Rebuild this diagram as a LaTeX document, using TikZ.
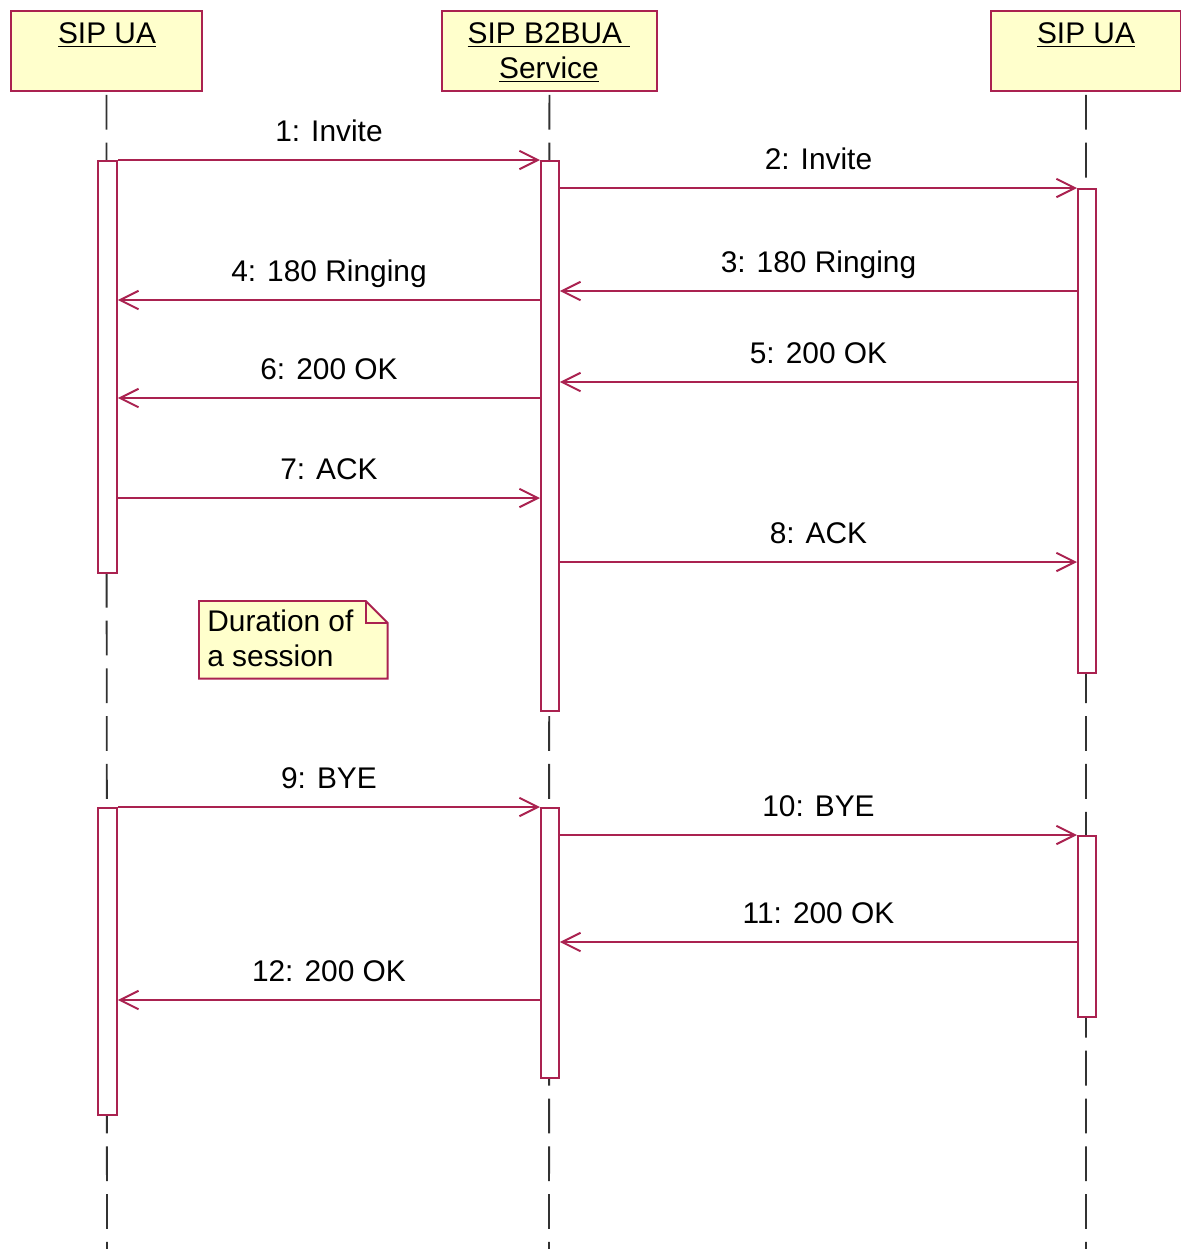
\documentclass[tikz,border=0pt]{standalone}
\usepackage{fontspec}
\setmainfont{Liberation Sans}
\usetikzlibrary{arrows.meta,calc}
\definecolor{umlred}{RGB}{170,34,80}
\definecolor{umlfill}{RGB}{255,255,204}
\definecolor{lifegray}{RGB}{50,50,50}
\tikzset{
  every node/.style={font=\fontsize{17}{21}\selectfont},
  header/.style={draw=umlred, fill=umlfill, line width=1.1pt, anchor=north west, inner sep=0pt},
  htext/.style={anchor=north, align=center, inner sep=0pt},
  lifeline/.style={draw=lifegray, line width=1.1pt, dash pattern=on 19.8pt off 7.4pt},
  actbar/.style={draw=umlred, fill=white, line width=1.1pt, anchor=north west, inner sep=0pt},
  msg/.style={draw=umlred, line width=1.1pt, -{Straight Barb[length=10.5pt,width=10.5pt,line width=1.1pt]}},
  mlabel/.style={above=10pt, inner sep=0pt, text depth=0pt, text=black}
}
\begin{document}
\begin{tikzpicture}[x=0.02cm,y=-0.02cm]
\path[use as bounding box, fill=white] (0,0) rectangle (1181,1249);

% headers
\node[header, minimum width=191*0.02cm, minimum height=80*0.02cm] (h1) at (10,10) {};
\node[header, minimum width=215*0.02cm, minimum height=80*0.02cm] (h2) at (441,10) {};
\node[header, minimum width=190*0.02cm, minimum height=80*0.02cm] (h3) at (990,10) {};
\node[htext] (t1) at (107,22) {\underline{SIP UA}};
\node[htext] (t2) at (549,22) {\underline{SIP B2BUA\ }\\[-1pt]\underline{Service}};
\node[htext] (t3) at (1086,22) {\underline{SIP UA}};

% lifelines
\coordinate (e1) at (107,1249);
\coordinate (e2) at (549,1249);
\coordinate (e3) at (1086,1249);
\draw[lifeline] ($(h1.south)+(0,3)$) -- (e1);
\draw[lifeline] ($(h2.south)+(0,3)$) -- (e2);
\draw[lifeline] ($(h3.south)+(0,3)$) -- (e3);

% activation bars
\node[actbar, minimum width=19*0.02cm, minimum height=412*0.02cm] (aL1) at (97,160) {};
\node[actbar, minimum width=18*0.02cm, minimum height=550*0.02cm] (aM1) at (540,160) {};
\node[actbar, minimum width=18*0.02cm, minimum height=484*0.02cm] (aR1) at (1077,188) {};
\node[actbar, minimum width=19*0.02cm, minimum height=307*0.02cm] (aL2) at (97,807) {};
\node[actbar, minimum width=18*0.02cm, minimum height=270*0.02cm] (aM2) at (540,807) {};
\node[actbar, minimum width=18*0.02cm, minimum height=181*0.02cm] (aR2) at (1077,835) {};

% messages
\draw[msg] (aL1.east |- 0,160) -- node[mlabel] {1: Invite} (aM1.west |- 0,160);
\draw[msg] (aM1.east |- 0,188) -- node[mlabel] {2: Invite} (aR1.west |- 0,188);
\draw[msg] (aR1.west |- 0,291) -- node[mlabel] {3: 180 Ringing} (aM1.east |- 0,291);
\draw[msg] (aM1.west |- 0,300) -- node[mlabel] {4: 180 Ringing} (aL1.east |- 0,300);
\draw[msg] (aR1.west |- 0,382) -- node[mlabel] {5: 200 OK} (aM1.east |- 0,382);
\draw[msg] (aM1.west |- 0,398) -- node[mlabel] {6: 200 OK} (aL1.east |- 0,398);
\draw[msg] (aL1.east |- 0,498) -- node[mlabel] {7: ACK} (aM1.west |- 0,498);
\draw[msg] (aM1.east |- 0,562) -- node[mlabel] {8: ACK} (aR1.west |- 0,562);
\draw[msg] (aL2.east |- 0,807) -- node[mlabel] {9: BYE} (aM2.west |- 0,807);
\draw[msg] (aM2.east |- 0,835) -- node[mlabel] {10: BYE} (aR2.west |- 0,835);
\draw[msg] (aR2.west |- 0,942) -- node[mlabel] {11: 200 OK} (aM2.east |- 0,942);
\draw[msg] (aM2.west |- 0,1000) -- node[mlabel] {12: 200 OK} (aL2.east |- 0,1000);

% note
\node[anchor=north west, minimum width=188*0.02cm, minimum height=77*0.02cm, inner sep=0pt] (note) at (199,601) {};
\fill[umlfill] (note.north west) -- ($(note.north east)+(-22,0)$) -- ($(note.north east)+(0,22)$) -- (note.south east) -- (note.south west) -- cycle;
\draw[umlred, line width=1.1pt, line join=miter] (note.north west) -- ($(note.north east)+(-22,0)$) -- ($(note.north east)+(0,22)$) -- (note.south east) -- (note.south west) -- cycle;
\draw[umlred, line width=1.1pt] ($(note.north east)+(-22,0)$) -- ($(note.north east)+(-22,22)$) -- ($(note.north east)+(0,22)$);
\node[anchor=north west, align=left, inner sep=0pt] (notetext) at (207,609) {Duration of\\[-1pt]a session};
\end{tikzpicture}
\end{document}
